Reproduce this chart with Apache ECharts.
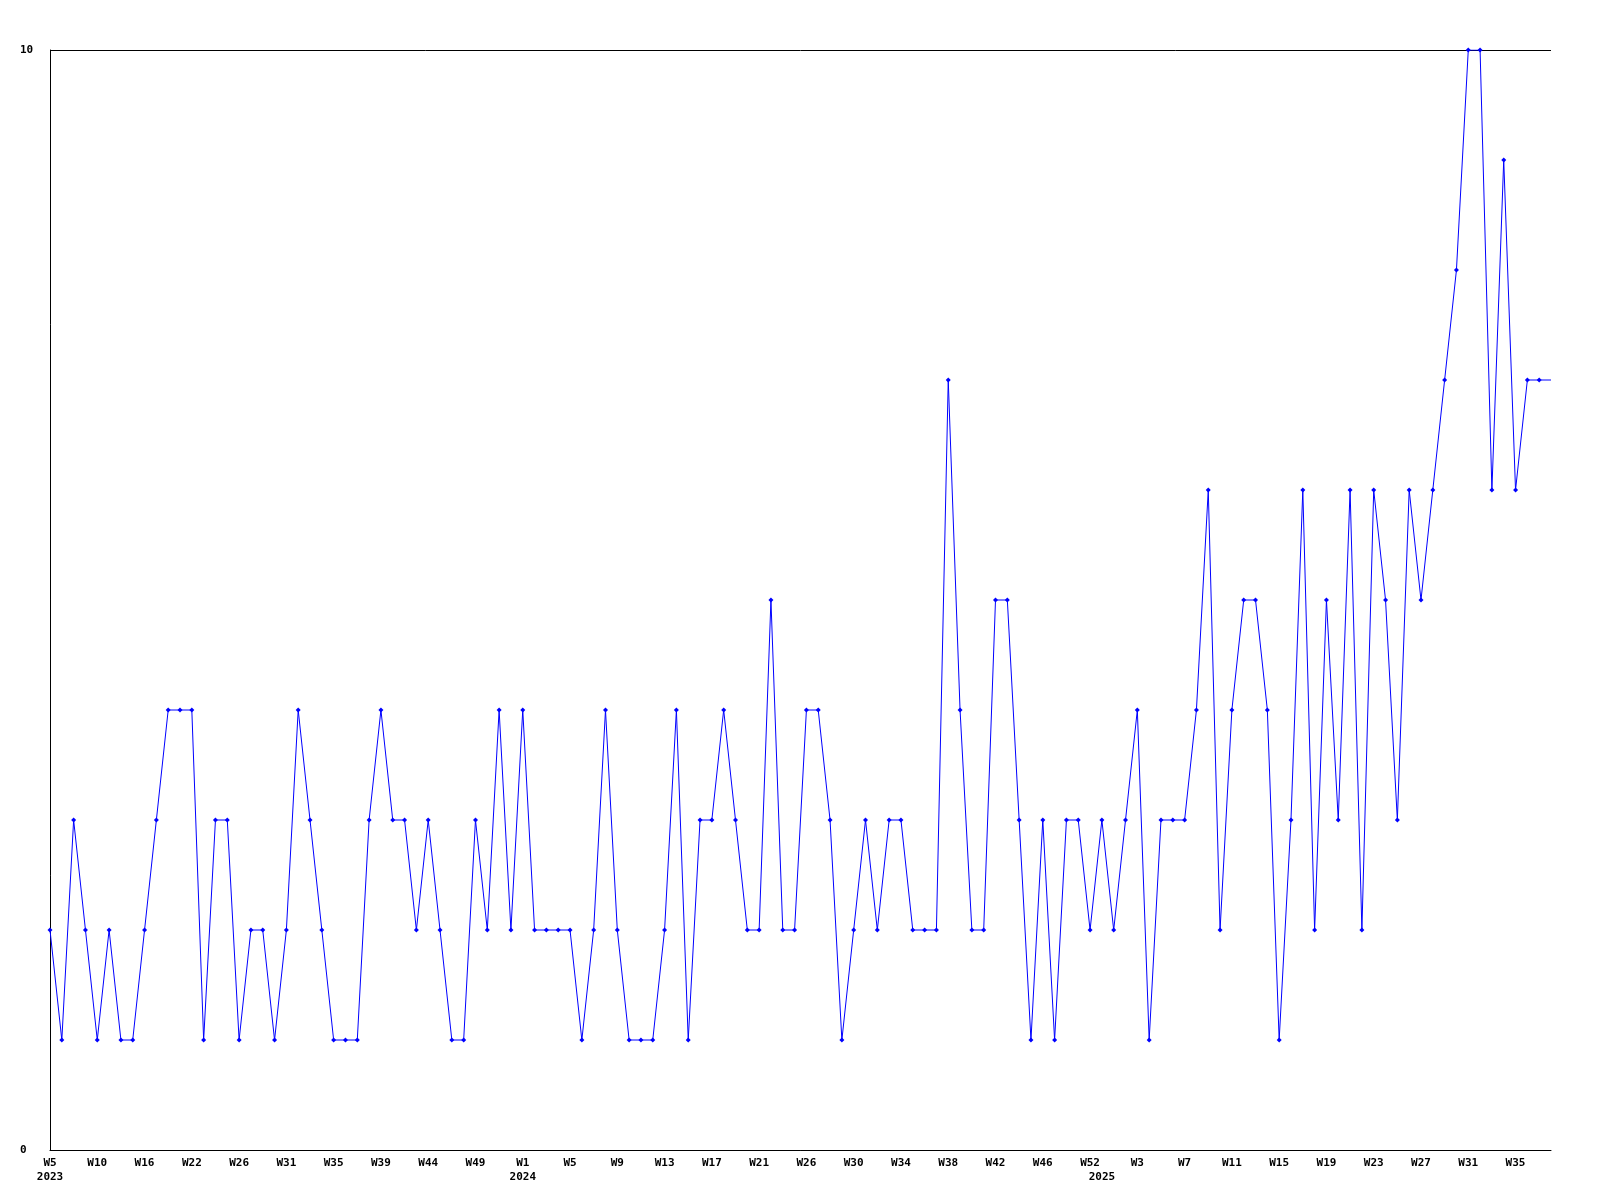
<!DOCTYPE html>
<html>
<head>
<meta charset="utf-8">
<script src="https://cdn.jsdelivr.net/npm/echarts@6/dist/echarts.min.js"></script>
<style>
html,body{margin:0;padding:0;background:#fff;}
#chart{width:1600px;height:1200px;}
</style>
</head>
<body>
<div id="chart"></div>
<script>
// Categories: year-week for each data point
const categories = [
  "2023-W5","2023-W6","2023-W7","2023-W8","2023-W10","2023-W11","2023-W13","2023-W14","2023-W16","2023-W17",
  "2023-W18","2023-W20","2023-W22","2023-W23","2023-W24","2023-W25","2023-W26","2023-W27","2023-W28","2023-W30",
  "2023-W31","2023-W32","2023-W33","2023-W34","2023-W35","2023-W36","2023-W37","2023-W38","2023-W39","2023-W40",
  "2023-W41","2023-W43","2023-W44","2023-W45","2023-W46","2023-W48","2023-W49","2023-W50","2023-W51","2023-W52",
  "2024-W1","2024-W2","2024-W3","2024-W4","2024-W5","2024-W6","2024-W7","2024-W8","2024-W9","2024-W10",
  "2024-W11","2024-W12","2024-W13","2024-W14","2024-W15","2024-W16","2024-W17","2024-W18","2024-W19","2024-W20",
  "2024-W21","2024-W22","2024-W23","2024-W25","2024-W26","2024-W27","2024-W28","2024-W29","2024-W30","2024-W31",
  "2024-W32","2024-W33","2024-W34","2024-W35","2024-W36","2024-W37","2024-W38","2024-W39","2024-W40","2024-W41",
  "2024-W42","2024-W43","2024-W44","2024-W45","2024-W46","2024-W47","2024-W49","2024-W51","2024-W52",
  "2025-W0","2025-W1","2025-W2","2025-W3","2025-W4","2025-W5","2025-W6","2025-W7","2025-W8","2025-W9",
  "2025-W10","2025-W11","2025-W12","2025-W13","2025-W14","2025-W15","2025-W16","2025-W17","2025-W18","2025-W19",
  "2025-W20","2025-W21","2025-W22","2025-W23","2025-W24","2025-W25","2025-W26","2025-W27","2025-W28","2025-W29",
  "2025-W30","2025-W31","2025-W32","2025-W33","2025-W34","2025-W35","2025-W36","2025-W37","2025-W38"
];

// Series values
const values = [
  2,1,3,2,1,2,1,1,2,3,4,4,4,1,3,3,1,2,2,1,2,4,3,2,1,1,1,3,4,3,3,2,3,2,1,1,3,2,4,2,4,2,
  2,2,2,1,2,4,2,1,1,1,2,4,1,3,3,4,3,2,2,5,2,2,4,4,3,1,2,3,2,3,3,2,2,2,7,4,2,2,5,
  5,3,1,3,1,3,3,2,3,2,3,4,1,3,3,3,4,6,2,4,5,5,4,1,3,6,2,5,3,6,2,6,5,3,6,5,6,7,8,10,10,6,9,6,7,7,7
];

// Y tick values
const yTicks = [0, 10];

const FONT = '"DejaVu Sans Mono", monospace';
const weekOf = v => v.split('-')[1];
const yearOf = v => v.split('-')[0];

const seriesData = values.map((v, i) => i === values.length - 1 ? {value: v, symbol: 'none'} : v);

const chart = echarts.init(document.getElementById('chart'), null, {renderer: 'canvas'});
chart.setOption({
  animation: false,
  backgroundColor: '#ffffff',
  grid: {left: 50, right: 49, top: 50, bottom: 50, containLabel: false},
  xAxis: [
    {
      type: 'category',
      data: categories,
      boundaryGap: false,
      position: 'bottom',
      axisLine: {show: true, lineStyle: {color: '#000', width: 1}},
      axisTick: {show: false},
      splitLine: {show: false},
      axisLabel: {
        show: true,
        interval: (i) => i % 4 === 0,
        formatter: (v) => weekOf(v),
        fontFamily: FONT, fontWeight: 'bold', fontSize: 11, color: '#000',
        margin: 8
      }
    },
    {
      type: 'category',
      data: categories,
      boundaryGap: false,
      position: 'bottom',
      offset: 14,
      axisLine: {show: false},
      axisTick: {show: false},
      splitLine: {show: false},
      axisLabel: {
        show: true,
        interval: (i, v) => i === 0 || yearOf(categories[i]) !== yearOf(categories[i - 1]),
        formatter: (v) => yearOf(v),
        fontFamily: FONT, fontWeight: 'bold', fontSize: 11, color: '#000',
        margin: 8
      }
    }
  ],
  yAxis: {
    type: 'value',
    min: yTicks[0],
    max: yTicks[yTicks.length - 1],
    interval: yTicks[1] - yTicks[0],
    axisLine: {show: true, lineStyle: {color: '#000', width: 1}},
    axisTick: {show: false},
    splitLine: {show: true, lineStyle: {color: '#000', width: 1}},
    axisLabel: {
      align: 'left',
      margin: 30,
      fontFamily: FONT, fontWeight: 'bold', fontSize: 11, color: '#000'
    }
  },
  series: [{
    type: 'line',
    xAxisIndex: 0,
    data: seriesData,
    symbol: 'diamond',
    symbolSize: 5,
    showAllSymbol: true,
    lineStyle: {color: '#0000ff', width: 1},
    itemStyle: {color: '#0000ff', borderWidth: 0},
    emphasis: {disabled: true},
    clip: true
  }]
});
</script>
</body>
</html>
